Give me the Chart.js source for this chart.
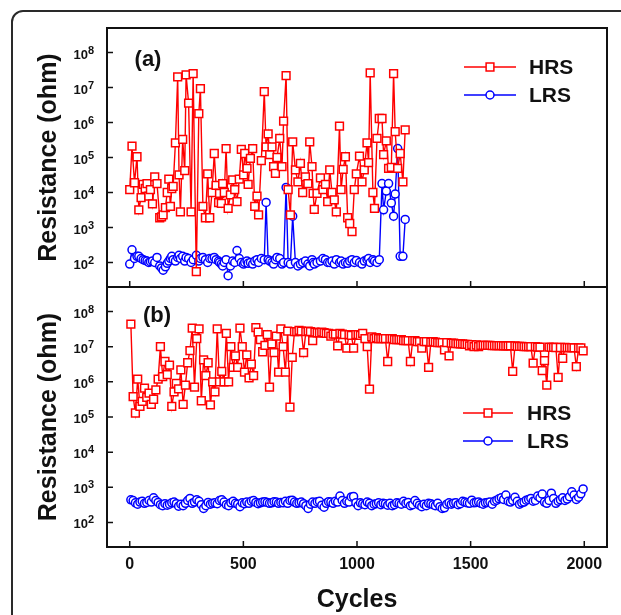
<!DOCTYPE html>
<html><head><meta charset="utf-8">
<script src="https://cdn.jsdelivr.net/npm/chart.js@4/dist/chart.umd.min.js"></script>
<style>
html,body{margin:0;padding:0;background:#fff;width:621px;height:615px;overflow:hidden;position:relative;}
#frame{position:absolute;left:11px;top:10px;width:700px;height:700px;border:2px solid #2a2a2a;border-radius:12px;box-sizing:border-box;}
canvas{position:absolute;left:0;}
#cA{top:0px;}
#cB{top:270px;}
</style></head>
<body>
<div id="frame"></div>
<canvas id="cA" width="621" height="300"></canvas>
<canvas id="cB" width="621" height="345"></canvas>
<script>
// ---------- DATA ----------
const seriesNames = ['HRS', 'LRS'];
const xTickValues = [0, 500, 1000, 1500, 2000];
const xTickLabels = ['0', '500', '1000', '1500', '2000'];
const yTickValues = [1e2, 1e3, 1e4, 1e5, 1e6, 1e7, 1e8];

// Panel (a)
const cyclesA = [0,10,21,32,40,50,59,68,76,84,
 91,100,110,120,132,140,147,157,165,172,
 179,185,191,201,211,217,223,233,242,248,
 259,270,279,293,304,311,322,333,343,352,
 362,372,380,391,395,403,409,416,424,433,
 443,453,462,472,482,491,501,506,516,521,
 531,541,550,560,567,579,592,600,609,616,
 626,633,641,648,660,670,677,688,697,707,
 717,729,740,751,761,773,784,792,802,807,
 812,824,839,850,861,871,880,890,900,909,
 923,930,939,949,959,968,978,988,997,1011,
 1022,1032,1044,1051,1058,1070,1077,1088,1098,1110,
 1117,1129,1139,1151,1161,1168,1179,1190,1202,1212];
const hrsA = [1.2e4,2.1e5,1.9e4,1.05e5,3.2e3,7.1e3,1.7e4,1.3e4,1.8e4,7.9e3,
 1.2e4,4.7e3,2.8e4,1.8e4,1.9e3,2.0e3,2.3e3,3.7e3,1.0e4,2.4e4,
 4.0e3,1.3e4,1.5e4,2.6e5,2.0e7,3.2e4,2.8e3,3.3e5,4.2e4,2.3e7,
 3.6e6,2.8e3,2.5e7,55,1.8e6,9.3e6,4.0e3,1.9e3,3.4e4,1.9e3,
 1.0e4,1.3e5,1.6e4,5.1e3,9.5e3,4.9e3,1.8e4,1.0e4,1.8e5,3.5e3,
 8.5e3,2.3e4,1.2e4,5.5e3,2.4e4,1.7e5,3.2e4,1.3e5,4.9e4,1.7e4,
 9.5e4,1.8e5,4.0e3,7.9e3,2.3e3,8.1e4,7.6e6,2.0e5,4.7e5,1.2e5,
 2.0e5,5.5e4,3.5e4,1.0e5,3.5e5,5.5e4,1.1e6,2.2e7,1.2e4,2.3e3,
 2.8e5,4.4e4,2.0e4,6.8e4,1.0e4,2.8e4,1.8e4,2.8e5,5.5e4,9.5e3,
 3.3e3,9.5e3,2.6e4,1.2e4,1.7e4,5.5e3,4.4e4,1.0e4,6.2e3,2.8e3,
 7.9e5,1.2e4,4.6e4,1.05e5,1.9e3,1.3e3,760,1.2e4,3.4e4,1.1e5,
 2.0e4,4.4e4,2.6e5,7.1e4,2.6e7,1.0e4,3.5e3,3.5e5,1.3e6,1.3e6,
 1.2e5,3.0e5,4.9e4,5.2e4,2.5e7,5.5e5,4.9e4,1.3e5,2.0e4,6.2e5];
const lrsA = [90,230,130,150,150,130,120,115,110,100,
 105,110,100,140,80,70,60,75,95,110,
 130,150,120,110,140,160,130,150,110,140,
 130,100,120,160,110,130,140,120,100,130,
 130,140,120,110,100,90,80,100,120,42,
 80,110,100,220,130,100,90,100,110,95,
 100,90,110,120,100,130,120,5200,120,110,
 100,90,120,140,130,90,100,1.4e4,100,90,
 2100,100,80,90,100,110,90,80,120,100,
 90,100,110,130,120,100,100,110,90,120,
 100,110,90,100,95,110,120,100,115,100,
 90,110,120,130,100,120,110,100,120,1.8e4,
 3.2e3,1.1e4,1.8e4,5.0e3,2.1e3,9.0e3,1.8e5,150,150,1.7e3];

// Panel (b)
const cyclesB = [5,15,25,35,45,55,65,75,85,95,105,115,125,135,145,155,165,175,185,195,
 205,215,225,235,245,255,265,275,285,295,305,315,325,335,345,355,365,375,385,395,
 405,415,425,435,445,455,465,475,485,495,505,515,525,535,545,555,565,575,585,595,
 605,615,625,635,645,655,665,675,685,695,705,715,725,735,745,755,765,775,785,795,
 805,815,825,835,845,855,865,875,885,895,905,915,925,935,945,955,965,975,985,995,
 1005,1015,1025,1035,1045,1055,1065,1075,1085,1095,1105,1115,1125,1135,1145,1155,1165,1175,1185,1195,
 1205,1215,1225,1235,1245,1255,1265,1275,1285,1295,1305,1315,1325,1335,1345,1355,1365,1375,1385,1395,
 1405,1415,1425,1435,1445,1455,1465,1475,1485,1495,1505,1515,1525,1535,1545,1555,1565,1575,1585,1595,
 1605,1615,1625,1635,1645,1655,1665,1675,1685,1695,1705,1715,1725,1735,1745,1755,1765,1775,1785,1795,
 1805,1815,1825,1835,1845,1855,1865,1875,1885,1895,1905,1915,1925,1935,1945,1955,1965,1975,1985,1995];
const hrsB = [4.4e7,3.8e5,1.3e5,1.2e6,2.0e5,2.8e5,6.6e5,3.6e5,4.8e5,2.3e5,
 3.2e5,5.9e5,1.2e6,1.0e7,1.4e6,3.8e6,1.6e6,3.0e6,2.0e5,5.2e5,
 9.1e5,6.3e5,2.2e6,2.3e5,8.1e5,3.5e6,7.8e6,3.4e7,7.1e5,1.7e7,
 3.2e7,2.9e5,4.2e6,1.5e6,3.5e6,2.2e5,1.0e6,5.2e5,3.2e7,1.0e6,
 2.0e6,1.0e6,2.4e7,1.0e6,1.0e7,2.6e6,5.5e6,2.6e6,3.4e7,1.0e7,
 1.9e6,5.9e6,1.3e6,3.2e6,1.5e6,3.5e7,2.6e7,1.6e7,7.2e6,1.1e7,
 2.2e7,7.1e5,1.2e7,6.8e6,2.0e7,1.9e6,3.2e7,1.0e7,1.9e6,2.8e7,
 1.9e5,5.0e6,2.7e7,2.7e7,2.9e7,2.8e7,6.8e6,2.7e7,2.8e7,2.7e7,
 1.5e7,2.6e7,2.5e7,2.5e7,2.6e7,2.5e7,2.4e7,2.4e7,2.0e7,2.3e7,
 2.3e7,1.05e7,2.4e7,2.3e7,2.2e7,9.1e6,2.2e7,2.1e7,9.1e6,2.2e7,
 2.2e7,2.1e7,2.4e7,1.7e7,1.0e7,6.2e5,1.9e7,1.7e7,1.8e7,1.7e7,
 1.7e7,1.7e7,1.7e7,3.8e6,1.7e7,1.7e7,1.6e7,1.6e7,1.6e7,1.6e7,
 1.5e7,1.5e7,1.5e7,3.8e6,1.5e7,1.5e7,1.4e7,1.4e7,9.1e6,1.4e7,
 1.4e7,2.6e6,1.35e7,1.4e7,1.35e7,1.3e7,1.3e7,1.3e7,8.1e6,1.3e7,
 5.5e6,1.26e7,1.26e7,1.23e7,1.23e7,1.2e7,1.2e7,1.17e7,1.17e7,1.05e7,
 1.15e7,1.0e7,1.12e7,1.0e7,1.1e7,1.1e7,1.1e7,1.1e7,1.1e7,1.07e7,
 1.07e7,1.07e7,1.07e7,1.07e7,1.05e7,1.05e7,1.05e7,1.05e7,2.0e6,1.05e7,
 1.02e7,1.02e7,1.02e7,1.0e7,1.0e7,1.0e7,1.0e7,3.4e6,1.0e7,9.8e6,
 9.8e6,2.1e6,4.0e6,8.1e5,9.8e6,9.6e6,9.6e6,9.5e6,1.35e6,9.5e6,
 4.7e6,9.5e6,9.4e6,9.4e6,9.4e6,9.3e6,2.7e6,9.3e6,9.2e6,7.6e6];
const lrsB = [440,420,360,330,380,400,350,370,420,380,
 500,420,370,320,300,340,310,330,360,380,
 340,290,330,300,350,420,480,350,380,440,
 400,320,250,300,370,330,350,360,340,420,
 440,380,320,300,360,400,350,330,280,360,
 340,380,350,400,420,370,340,360,380,390,
 370,350,360,390,380,350,370,360,400,350,
 420,430,380,350,360,380,340,300,250,330,
 380,350,390,400,310,270,350,390,380,350,
 400,380,560,420,350,400,380,530,550,360,
 300,360,340,320,380,350,300,330,340,360,
 320,350,340,310,350,300,320,360,350,330,
 400,350,370,300,320,420,350,310,280,330,
 300,350,340,320,300,350,280,250,260,330,
 360,330,350,360,320,340,400,380,360,350,
 430,360,370,380,350,330,360,370,380,330,
 400,430,470,500,450,600,400,380,420,520,
 400,330,360,380,430,450,480,400,420,560,
 500,640,380,350,420,680,480,350,400,440,
 500,420,460,540,740,600,450,520,650,900];

// ---------- STYLE ----------
const FONT = '"Liberation Sans", Arial, Helvetica, sans-serif';
const RED = 'rgb(255,0,0)';
const BLUE = 'rgb(0,0,255)';
const INK = '#111';

function makeDataset(name, xs, ys, color, style, radius) {
  return {
    label: name,
    data: xs.map((x, i) => ({x: x, y: ys[i]})),
    borderColor: color,
    backgroundColor: '#fff',
    pointBackgroundColor: '#fff',
    pointBorderColor: color,
    pointStyle: style,
    pointRadius: radius,
    pointBorderWidth: 1.5,
    borderWidth: 1.4,
    tension: 0,
    fill: false
  };
}

function drawMarker(ctx, style, r, x, y, color) {
  ctx.save();
  ctx.fillStyle = '#fff';
  ctx.strokeStyle = color;
  ctx.lineWidth = 1.5;
  ctx.beginPath();
  if (style === 'rect') {
    const h = r * Math.SQRT1_2;
    ctx.rect(x - h, y - h, 2 * h, 2 * h);
  } else {
    ctx.arc(x, y, r, 0, Math.PI * 2);
  }
  ctx.fill();
  ctx.stroke();
  ctx.restore();
}

const decor = {
  id: 'decor',
  afterDraw(chart, args, opts) {
    const ctx = chart.ctx;
    const a = chart.chartArea;
    const xs = chart.scales.x, ys = chart.scales.y;
    ctx.save();
    // frame
    ctx.strokeStyle = INK;
    ctx.lineWidth = 2;
    ctx.strokeRect(a.left, a.top, a.right - a.left, a.bottom - a.top);
    // inward ticks
    ctx.lineWidth = 1.5;
    ctx.beginPath();
    xTickValues.forEach(v => {
      const px = xs.getPixelForValue(v);
      ctx.moveTo(px, a.bottom); ctx.lineTo(px, a.bottom - 6);
    });
    yTickValues.forEach(v => {
      const py = ys.getPixelForValue(v);
      ctx.moveTo(a.left, py); ctx.lineTo(a.left + 6, py);
    });
    ctx.stroke();
    // y tick labels 10^n
    ctx.fillStyle = INK;
    ctx.textBaseline = 'middle';
    yTickValues.forEach(v => {
      const py = ys.getPixelForValue(v);
      const e = String(Math.round(Math.log10(v)));
      ctx.font = 'bold 13px ' + FONT;
      ctx.textAlign = 'right';
      ctx.fillText('10', a.left - 19, py + 2.5);
      ctx.font = 'bold 11px ' + FONT;
      ctx.textAlign = 'left';
      ctx.fillText(e, a.left - 19, py - 2);
    });
    // panel label
    ctx.font = 'bold 22px ' + FONT;
    ctx.textAlign = 'center';
    ctx.fillText(opts.label, opts.labelX, opts.labelY);
    // legend
    chart.data.datasets.forEach((ds, i) => {
      const y = opts.legendY[i];
      ctx.strokeStyle = ds.borderColor;
      ctx.lineWidth = ds.borderWidth;
      ctx.beginPath();
      ctx.moveTo(opts.legendX0, y); ctx.lineTo(opts.legendX1, y);
      ctx.stroke();
      drawMarker(ctx, ds.pointStyle, ds.pointRadius, (opts.legendX0 + opts.legendX1) / 2, y, ds.borderColor);
      ctx.fillStyle = INK;
      ctx.font = 'bold 21px ' + FONT;
      ctx.textAlign = 'left';
      ctx.textBaseline = 'middle';
      ctx.fillText(ds.label, opts.textX, y + 1);
    });
    ctx.restore();
  }
};

function makeOptions(isBottom, decorOpts) {
  const xScale = {
    type: 'linear', min: -100, max: 2100, display: isBottom,
    afterBuildTicks: s => { s.ticks = xTickValues.map(v => ({value: v})); },
    grid: {display: false, drawTicks: false},
    border: {display: false},
    ticks: {font: {family: FONT, size: 16, weight: 'bold'}, color: INK, padding: 8, maxRotation: 0,
            callback: (v, i) => xTickLabels[i]},
    title: {display: true, text: 'Cycles', font: {family: FONT, size: 25, weight: 'bold'}, color: INK,
            padding: {top: 0, bottom: 0}}
  };
  if (isBottom) xScale.afterFit = s => { s.height = 68; };
  return {
    responsive: false,
    animation: false,
    events: [],
    layout: {padding: isBottom ? {top: 17, right: 14, bottom: 0, left: 0} : {top: 28, right: 14, bottom: 13, left: 0}},
    plugins: {legend: {display: false}, tooltip: {enabled: false}, decor: decorOpts},
    scales: {
      x: xScale,
      y: {
        type: 'logarithmic', min: Math.pow(10, 1.3), max: Math.pow(10, 8.7),
        afterBuildTicks: s => { s.ticks = yTickValues.map(v => ({value: v})); },
        afterFit: s => { s.width = 107; },
        grid: {display: false, drawTicks: false},
        border: {display: false},
        ticks: {display: false},
        title: {display: true, text: 'Resistance (ohm)', font: {family: FONT, size: 25, weight: 'bold'}, color: INK,
                padding: {top: 34, bottom: 0}}
      }
    }
  };
}

new Chart(document.getElementById('cA'), {
  type: 'line',
  data: {datasets: [
    makeDataset(seriesNames[0], cyclesA, hrsA, RED, 'rect', 5.5),
    makeDataset(seriesNames[1], cyclesA, lrsA, BLUE, 'circle', 4)
  ]},
  options: makeOptions(false, {label: '(a)', labelX: 148, labelY: 60, legendY: [67, 95], legendX0: 464, legendX1: 516, textX: 529}),
  plugins: [decor]
});

new Chart(document.getElementById('cB'), {
  type: 'line',
  data: {datasets: [
    makeDataset(seriesNames[0], cyclesB, hrsB, RED, 'rect', 5.5),
    makeDataset(seriesNames[1], cyclesB, lrsB, BLUE, 'circle', 4)
  ]},
  options: makeOptions(true, {label: '(b)', labelX: 157, labelY: 46, legendY: [143, 171], legendX0: 463, legendX1: 513, textX: 527}),
  plugins: [decor]
});
</script>
</body></html>
